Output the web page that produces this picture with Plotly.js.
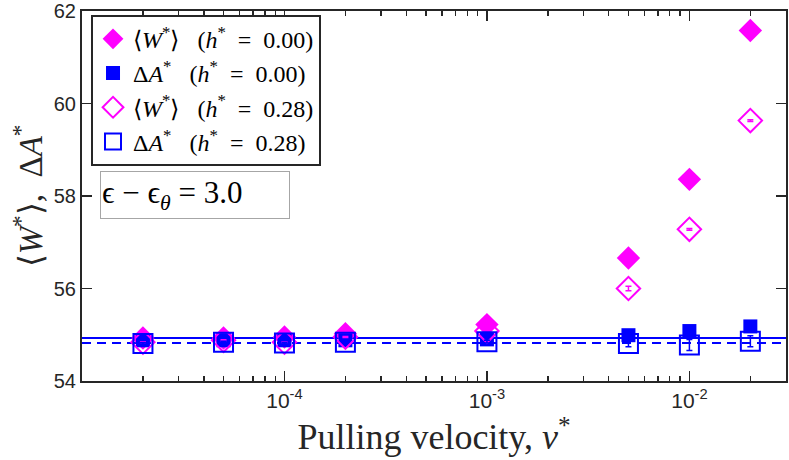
<!DOCTYPE html>
<html>
<head>
<meta charset="utf-8">
<script src="https://cdn.plot.ly/plotly-3.0.1.min.js"></script>
<style>
  html, body { margin: 0; padding: 0; background: #fff; }
  #chart { width: 789px; height: 460px; }
</style>
</head>
<body>
<div id="chart"></div>
<script>
// pulling velocities (log axis)
const velocity = [2e-5, 5e-5, 1e-4, 2e-4, 1e-3, 5e-3, 1e-2, 2e-2];

// h* = 0.00
const workH0 = [54.93, 54.93, 54.95, 55.02, 55.22, 56.66, 58.36, 61.58];
const freeH0 = [54.88, 54.88, 54.88, 54.88, 54.90, 54.99, 55.08, 55.18];

// h* = 0.28
const workH28 = [54.84, 54.88, 54.84, 54.95, 55.08, 56.00, 57.28, 59.63];
const workH28Err = [0.01, 0.01, 0.01, 0.01, 0.02, 0.05, 0.02, 0.02];
const freeH28 = [54.81, 54.84, 54.82, 54.84, 54.85, 54.81, 54.78, 54.86];
const freeH28Err = [0.02, 0.02, 0.02, 0.02, 0.03, 0.07, 0.12, 0.12];

// equilibrium free energy levels
const refSolid = 54.93;   // h* = 0.00
const refDashed = 54.82;  // h* = 0.28

const xTickVals = [1e-4, 1e-3, 1e-2];
const xTickText = ['10<sup>-4</sup>', '10<sup>-3</sup>', '10<sup>-2</sup>'];
const yTickVals = [54, 56, 58, 60, 62];

const magenta = '#ff00ff';
const blue = '#0000ff';
const serif = 'Liberation Serif, Times New Roman, serif';
const sans = 'Liberation Sans, Arial, sans-serif';
const sp = '&nbsp;';

// minor ticks 2..9 of every decade in view
let minorVals = [];
for (let e = -5; e <= -2; e++) {
    for (let m = 2; m <= 9; m++) minorVals.push(m * Math.pow(10, e));
}

function label(q, h) {
    return q + sp + sp + sp + '(<i>h</i><sup>*</sup>' + sp + sp + '=' + sp + sp + h + ')';
}

var data = [
    {
        x: velocity, y: workH0, type: 'scatter', mode: 'markers',
        name: label('⟨<i>W</i><sup>*</sup>⟩', '0.00'),
        marker: {symbol: 'diamond', size: 18, color: magenta, line: {width: 0}}
    },
    {
        x: velocity, y: freeH0, type: 'scatter', mode: 'markers',
        name: label('Δ<i>A</i><sup>*</sup>', '0.00'),
        marker: {symbol: 'square', size: 14, color: blue, line: {width: 0}}
    },
    {
        x: velocity, y: workH28, type: 'scatter', mode: 'markers',
        name: label('⟨<i>W</i><sup>*</sup>⟩', '0.28'),
        error_y: {type: 'data', array: workH28Err, color: magenta, thickness: 1.5, width: 3},
        marker: {symbol: 'diamond-open', size: 18, color: magenta, line: {width: 2, color: magenta}}
    },
    {
        x: velocity, y: freeH28, type: 'scatter', mode: 'markers',
        name: label('Δ<i>A</i><sup>*</sup>', '0.28'),
        error_y: {type: 'data', array: freeH28Err, color: blue, thickness: 1.5, width: 3},
        marker: {symbol: 'square-open', size: 19, color: blue, line: {width: 2, color: blue}}
    }
];

var layout = {
    width: 789,
    height: 460,
    margin: {l: 82, r: 3, t: 11, b: 79},
    paper_bgcolor: '#fff',
    plot_bgcolor: '#fff',
    showlegend: true,
    xaxis: {
        type: 'log',
        range: [-5, Math.log10(3e-2)],
        tickvals: xTickVals,
        ticktext: xTickText,
        ticks: 'inside',
        ticklen: 10,
        tickwidth: 1.3,
        tickcolor: '#262626',
        minor: {tickvals: minorVals, ticks: 'inside', ticklen: 5, tickwidth: 1.3, tickcolor: '#262626'},
        showline: true,
        linecolor: '#262626',
        linewidth: 2,
        mirror: 'ticks',
        showgrid: false,
        zeroline: false,
        tickfont: {family: sans, size: 21, color: '#262626'},
        title: {text: 'Pulling velocity, <i>v</i><sup>*</sup>', font: {family: serif, size: 36, color: '#262626'}, standoff: 2}
    },
    yaxis: {
        range: [54, 62],
        tickvals: yTickVals,
        ticks: 'inside',
        ticklen: 10,
        tickwidth: 1.3,
        tickcolor: '#262626',
        ticklabeloverflow: 'allow',
        showline: true,
        linecolor: '#262626',
        linewidth: 2,
        mirror: 'ticks',
        showgrid: false,
        zeroline: false,
        tickfont: {family: sans, size: 20, color: '#262626'},
        title: {text: '⟨<i>W</i><sup>*</sup>⟩,' + sp + sp + 'Δ<i>A</i><sup>*</sup>', font: {family: serif, size: 33, color: '#262626'}, standoff: 1}
    },
    legend: {
        x: 0.0128, y: 0.99, xanchor: 'left', yanchor: 'top',
        bgcolor: '#fff',
        bordercolor: '#262626',
        borderwidth: 2,
        font: {family: serif, size: 24, color: '#000'},
        tracegroupgap: 0
    },
    shapes: [
        {type: 'line', xref: 'paper', x0: 0, x1: 1, yref: 'y', y0: refSolid, y1: refSolid,
         line: {color: blue, width: 2}, layer: 'below'},
        {type: 'line', xref: 'paper', x0: 0, x1: 1, yref: 'y', y0: refDashed, y1: refDashed,
         line: {color: blue, width: 2, dash: '9px,6px'}, layer: 'below'}
    ],
    annotations: [
        {
            xref: 'paper', yref: 'paper', x: 0.0256, y: 0.568,
            xanchor: 'left', yanchor: 'top',
            text: 'ϵ' + sp + '−' + sp + 'ϵ<sub><i>θ</i></sub>' + sp + '=' + sp + '3.0',
            showarrow: false,
            align: 'left',
            width: 186, height: 44,
            bordercolor: '#a6a6a6', borderwidth: 1, borderpad: 1,
            bgcolor: '#fff',
            font: {family: serif, size: 31, color: '#000'}
        }
    ]
};

Plotly.newPlot('chart', data, layout, {displayModeBar: false, staticPlot: true});
</script>
</body>
</html>
